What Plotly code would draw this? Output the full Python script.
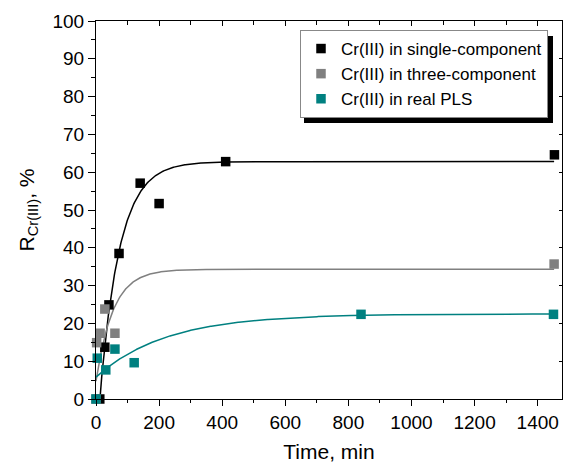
import numpy as np
import plotly.graph_objects as go

# ---- data ----
t_single = [12, 28, 41, 73, 140, 200, 411, 1453]
r_single = [0, 13.7, 24.9, 38.5, 57.1, 51.7, 62.8, 64.6]

t_three = [0, 2, 13, 28, 60, 1452]
r_three = [0, 14.9, 17.4, 23.8, 17.4, 35.7]

t_pls = [0, 4, 31, 60, 121, 840, 1450]
r_pls = [0, 10.8, 7.7, 13.2, 9.6, 22.4, 22.4]

# exponential fit parameters
fit_single = dict(y0=0.0, A=62.8, k=0.016, t0=12.0)
fit_three = dict(y0=0.0, A=34.3, k=0.0185, t0=-8.0)
fit_pls = dict(y0=5.8, A=22.5, k=0.0045, t0=0.0)

x_ticks = [0, 200, 400, 600, 800, 1000, 1200, 1400]
y_ticks = [0, 10, 20, 30, 40, 50, 60, 70, 80, 90, 100]

names = ["Cr(III) in single-component", "Cr(III) in three-component", "Cr(III) in real PLS"]
colors = ["#000000", "#808080", "#008080"]


def fit_curve(p, t):
    return p["y0"] + (p["A"] - p["y0"]) * (1 - np.exp(-p["k"] * (t - p["t0"])))


tt = np.linspace(0, 1452, 800)
FONT = "Arial, Liberation Sans, Arimo, sans-serif"

fig = go.Figure()
for p, c in zip([fit_single, fit_three, fit_pls], colors):
    fig.add_trace(go.Scatter(x=tt, y=fit_curve(p, tt), mode="lines",
                             line=dict(color=c, width=1.5), showlegend=False,
                             hoverinfo="skip"))

for t, r, n, c in zip([t_single, t_three, t_pls], [r_single, r_three, r_pls], names, colors):
    fig.add_trace(go.Scatter(x=t, y=r, mode="markers", name=n,
                             marker=dict(symbol="square", size=9.5, color=c,
                                         line=dict(width=0)),
                             cliponaxis=False))

# dummy trace for the mirrored (top/right) axes
fig.add_trace(go.Scatter(x=[None], y=[None], xaxis="x2", yaxis="y2",
                         showlegend=False, hoverinfo="skip"))

XR = [0, 1477]
YR = [0, 100]

# plot-area geometry in pixels (for placing legend and its shadow)
L, R, T, B = 96, 1, 21, 71
W, H = 563, 470
PW, PH = W - L - R, H - T - B


def px_x(px):
    return (px - L) / PW


def px_y(py):
    return (H - B - py) / PH


leg_x, leg_t = 300, 30          # requested legend anchor
box_l, box_w, box_h = 298, 249, 87   # drawn legend box
sh = 6

fig.update_layout(
    width=W, height=H,
    margin=dict(l=L, r=R, t=T, b=B),
    paper_bgcolor="white", plot_bgcolor="white",
    font=dict(family=FONT, size=19, color="black"),
    showlegend=True,
    legend=dict(x=px_x(leg_x), y=px_y(leg_t), xanchor="left", yanchor="top",
                bgcolor="white", bordercolor="#888888", borderwidth=1,
                font=dict(family=FONT, size=17, color="black"),
                itemwidth=30, tracegroupgap=0),
    shapes=[dict(type="rect", xref="paper", yref="paper", layer="above",
                 x0=px_x(box_l + sh), x1=px_x(box_l + box_w + sh),
                 y0=px_y(leg_t + box_h + sh), y1=px_y(leg_t + sh),
                 fillcolor="black", line=dict(width=0))],
    xaxis=dict(range=XR, tickvals=x_ticks, ticks="outside", ticklen=6,
               tickwidth=1, tickcolor="black", showline=True, linecolor="black",
               linewidth=1, showgrid=False, zeroline=False,
               minor=dict(dtick=100, ticks="outside", ticklen=3, tickcolor="black"),
               title=dict(text="Time, min", font=dict(size=21), standoff=12),
               tickfont=dict(size=19)),
    yaxis=dict(range=YR, tickvals=y_ticks, ticks="outside", ticklen=7,
               tickwidth=1, tickcolor="black", showline=True, linecolor="black",
               linewidth=1, showgrid=False, zeroline=False,
               minor=dict(dtick=5, ticks="outside", ticklen=4, tickcolor="black"),
               title=dict(text="R<sub>Cr(III)</sub>, %", font=dict(size=21), standoff=12),
               tickfont=dict(size=19)),
    xaxis2=dict(range=XR, overlaying="x", side="top", anchor="y2",
                tickvals=x_ticks, ticks="inside", ticklen=5, tickcolor="black",
                showticklabels=False, showline=True, linecolor="black",
                showgrid=False, zeroline=False,
                minor=dict(dtick=100, ticks="inside", ticklen=4, tickcolor="black")),
    yaxis2=dict(range=YR, overlaying="y", side="right", anchor="x2",
                tickvals=y_ticks, ticks="inside", ticklen=3, tickcolor="black",
                showticklabels=False, showline=True, linecolor="black",
                showgrid=False, zeroline=False),
)

fig.write_html("out.html")
